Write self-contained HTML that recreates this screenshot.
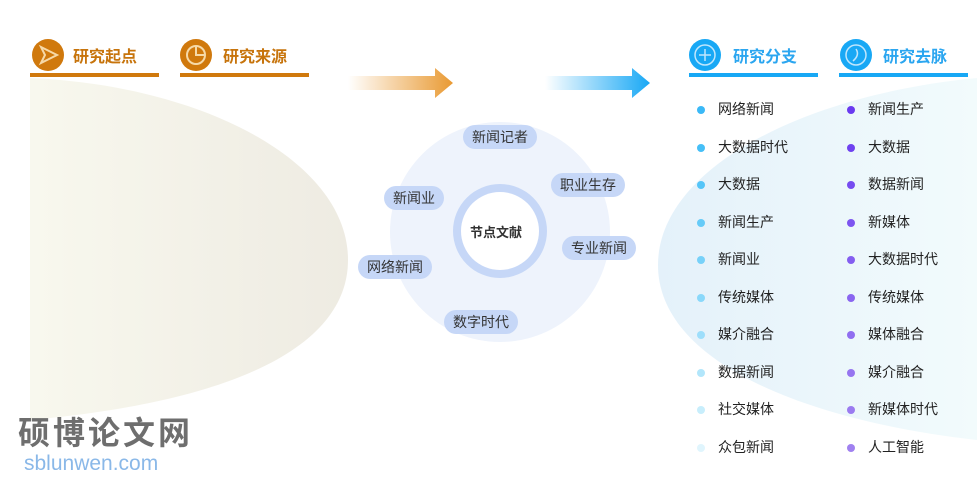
<!DOCTYPE html>
<html><head><meta charset="utf-8"><style>
body{margin:0;width:977px;height:483px;background:#fff;position:relative;overflow:hidden;font-family:"Liberation Sans","Noto Sans CJK SC",sans-serif}
.a{position:absolute}
.h{font-size:16px;font-weight:bold}
.li{position:absolute;font-size:14px;color:#222;line-height:16px}
.dot{position:absolute;width:8px;height:8px;border-radius:50%}
.pill{position:absolute;background:#c6d7f7;border-radius:12px;font-size:14px;color:#333;height:24px;line-height:24px;padding:0 9px}
</style></head><body>
<svg class="a" style="left:0;top:0" width="977" height="483">
<defs>
<linearGradient id="gl" x1="0" x2="1"><stop offset="0" stop-color="#f8f8ee"/><stop offset="1" stop-color="#eeebe2"/></linearGradient>
<linearGradient id="gr" x1="0" x2="1"><stop offset="0" stop-color="#e4f1fa"/><stop offset="1" stop-color="#f2fbfc"/></linearGradient>
<linearGradient id="ao" x1="0" x2="1"><stop offset="0" stop-color="#e99a33" stop-opacity="0"/><stop offset="1" stop-color="#e99a33"/></linearGradient>
<linearGradient id="ab" x1="0" x2="1"><stop offset="0" stop-color="#18a8f5" stop-opacity="0"/><stop offset="1" stop-color="#18a8f5"/></linearGradient>
</defs>
<path d="M30 78 C200 85 348 160 348 260 C348 340 250 400 30 420 Z" fill="url(#gl)"/>
<path d="M977 78 C800 95 658 170 658 265 C658 360 800 420 977 440 Z" fill="url(#gr)"/>
<polygon points="348,76 435,76 435,68 453,83 435,98 435,90 348,90" fill="url(#ao)"/>
<polygon points="545,76 632,76 632,68 650,83 632,98 632,90 545,90" fill="url(#ab)"/>
<circle cx="500" cy="232" r="110" fill="#eef3fc"/>
<circle cx="500" cy="231" r="47" fill="#c6d7f7"/>
<circle cx="500" cy="231" r="39" fill="#fff"/>
<rect x="30" y="73" width="129" height="4" fill="#d0790d"/>
<rect x="180" y="73" width="129" height="4" fill="#d0790d"/>
<rect x="689" y="73" width="129" height="4" fill="#18a8f5"/>
<rect x="839" y="73" width="129" height="4" fill="#18a8f5"/>
<circle cx="48" cy="55" r="16" fill="#d0790d"/>
<path d="M41 47 L57 55 L41 63 L45 55 Z" fill="none" stroke="#f6d9a8" stroke-width="2"/>
<circle cx="196" cy="55" r="16" fill="#d0790d"/>
<circle cx="196" cy="55" r="9" fill="none" stroke="#f6d9a8" stroke-width="2"/>
<path d="M196 46 V55 H205" fill="none" stroke="#f6d9a8" stroke-width="2"/>
<circle cx="705" cy="55" r="16" fill="#18a8f5"/>
<circle cx="705" cy="55" r="10" fill="none" stroke="#bfe6fd" stroke-width="1.5"/>
<path d="M705 49 V61 M699 55 H711" stroke="#bfe6fd" stroke-width="1.5"/>
<circle cx="856" cy="55" r="16" fill="#18a8f5"/>
<circle cx="856" cy="55" r="10" fill="none" stroke="#bfe6fd" stroke-width="1.5"/>
<path d="M853 61 Q860 55 856 49" fill="none" stroke="#bfe6fd" stroke-width="1.5"/>
</svg>
<div class="a h" style="left:73px;top:43px;color:#c7740c">研究起点</div>
<div class="a h" style="left:223px;top:43px;color:#c7740c">研究来源</div>
<div class="a h" style="left:733px;top:43px;color:#2ba6f0">研究分支</div>
<div class="a h" style="left:883px;top:43px;color:#2ba6f0">研究去脉</div>
<div class="a" style="left:470px;top:222px;font-size:13px;font-weight:bold;color:#333">节点文献</div>
<div class="pill" style="left:463px;top:125px">新闻记者</div>
<div class="pill" style="left:551px;top:173px">职业生存</div>
<div class="pill" style="left:384px;top:186px">新闻业</div>
<div class="pill" style="left:562px;top:236px">专业新闻</div>
<div class="pill" style="left:358px;top:255px">网络新闻</div>
<div class="pill" style="left:444px;top:310px">数字时代</div>
<div class="dot" style="left:697px;top:106px;background:#3bb9f7"></div><div class="li" style="left:718px;top:101px">网络新闻</div>
<div class="dot" style="left:697px;top:144px;background:#46bff7"></div><div class="li" style="left:718px;top:139px">大数据时代</div>
<div class="dot" style="left:697px;top:181px;background:#55c5f8"></div><div class="li" style="left:718px;top:176px">大数据</div>
<div class="dot" style="left:697px;top:219px;background:#66cbf8"></div><div class="li" style="left:718px;top:214px">新闻生产</div>
<div class="dot" style="left:697px;top:256px;background:#77d1f9"></div><div class="li" style="left:718px;top:251px">新闻业</div>
<div class="dot" style="left:697px;top:294px;background:#8ad8fa"></div><div class="li" style="left:718px;top:289px">传统媒体</div>
<div class="dot" style="left:697px;top:331px;background:#9ddefb"></div><div class="li" style="left:718px;top:326px">媒介融合</div>
<div class="dot" style="left:697px;top:369px;background:#b2e6fb"></div><div class="li" style="left:718px;top:364px">数据新闻</div>
<div class="dot" style="left:697px;top:406px;background:#c8eefc"></div><div class="li" style="left:718px;top:401px">社交媒体</div>
<div class="dot" style="left:697px;top:444px;background:#e0f5fd"></div><div class="li" style="left:718px;top:439px">众包新闻</div>
<div class="dot" style="left:847px;top:106px;background:#6a3af0"></div><div class="li" style="left:868px;top:101px">新闻生产</div>
<div class="dot" style="left:847px;top:144px;background:#6f42f0"></div><div class="li" style="left:868px;top:139px">大数据</div>
<div class="dot" style="left:847px;top:181px;background:#764cf0"></div><div class="li" style="left:868px;top:176px">数据新闻</div>
<div class="dot" style="left:847px;top:219px;background:#7d55f0"></div><div class="li" style="left:868px;top:214px">新媒体</div>
<div class="dot" style="left:847px;top:256px;background:#845ef0"></div><div class="li" style="left:868px;top:251px">大数据时代</div>
<div class="dot" style="left:847px;top:294px;background:#8a66f0"></div><div class="li" style="left:868px;top:289px">传统媒体</div>
<div class="dot" style="left:847px;top:331px;background:#906ef0"></div><div class="li" style="left:868px;top:326px">媒体融合</div>
<div class="dot" style="left:847px;top:369px;background:#9675f0"></div><div class="li" style="left:868px;top:364px">媒介融合</div>
<div class="dot" style="left:847px;top:406px;background:#9b7bf0"></div><div class="li" style="left:868px;top:401px">新媒体时代</div>
<div class="dot" style="left:847px;top:444px;background:#a081f0"></div><div class="li" style="left:868px;top:439px">人工智能</div>
<div class="a" style="left:18px;top:413px;font-size:32px;color:#6e6e6e;font-weight:bold;letter-spacing:3px;font-family:'Noto Sans CJK SC',sans-serif;line-height:36px">硕博论文网</div>
<div class="a" style="left:24px;top:452px;font-size:21px;color:#8ab8e8;line-height:24px">sblunwen.com</div>
</body></html>
